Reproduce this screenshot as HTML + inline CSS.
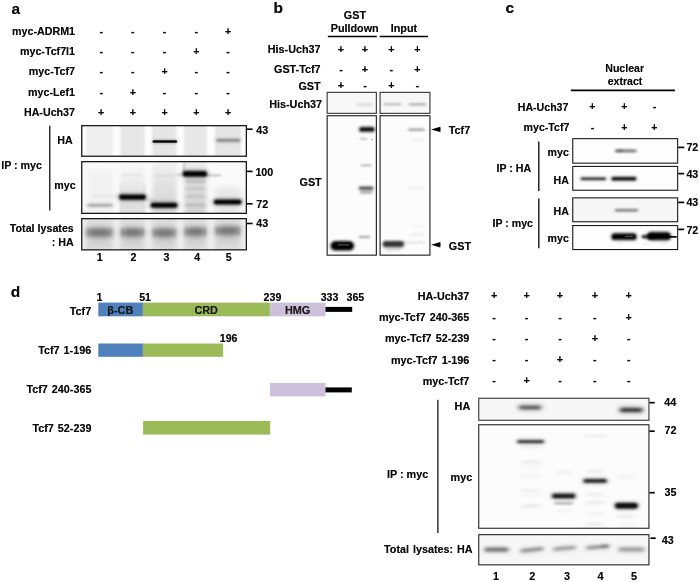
<!DOCTYPE html>
<html><head><meta charset="utf-8"><title>Figure</title>
<style>
html,body{margin:0;padding:0;background:#fff;}
#fig{position:relative;width:700px;height:582px;overflow:hidden;background:#fff;font-family:"Liberation Sans",sans-serif;font-weight:bold;color:#0c0c0c;}
#fig svg{position:absolute;left:0;top:0;}
#txt{position:absolute;left:0;top:0;width:700px;height:582px;will-change:transform;}
.t{position:absolute;white-space:nowrap;text-shadow:0 0 0.6px rgba(0,0,0,0.55);line-height:20px;height:20px;}
</style></head><body>
<div id="fig">
<svg width="700" height="582" viewBox="0 0 700 582">
<defs>
<filter id="f05" x="-50%" y="-400%" width="200%" height="900%"><feGaussianBlur stdDeviation="0.6 0.5"/></filter>
<filter id="f1" x="-50%" y="-400%" width="200%" height="900%"><feGaussianBlur stdDeviation="1.1 0.9"/></filter>
<filter id="f15" x="-50%" y="-400%" width="200%" height="900%"><feGaussianBlur stdDeviation="1.6 1.2"/></filter>
<filter id="f2" x="-50%" y="-400%" width="200%" height="900%"><feGaussianBlur stdDeviation="2.0 1.6"/></filter>
<filter id="f3" x="-50%" y="-400%" width="200%" height="900%"><feGaussianBlur stdDeviation="3 2.5"/></filter>
<filter id="f4" x="-50%" y="-400%" width="200%" height="900%"><feGaussianBlur stdDeviation="4 3.5"/></filter>
<filter id="fs" x="-50%" y="-400%" width="200%" height="900%"><feGaussianBlur stdDeviation="1.2 3"/></filter>
<filter id="fl" x="-50%" y="-400%" width="200%" height="900%"><feGaussianBlur stdDeviation="2.5 8"/></filter>
<clipPath id="c1"><rect x="81.75" y="125.65" width="164.60" height="30.60"/></clipPath>
<linearGradient id="lg3" x1="0" y1="0" x2="0" y2="1"><stop offset="0" stop-color="#000" stop-opacity="0.03"/><stop offset="0.75" stop-color="#000" stop-opacity="0.14"/><stop offset="1" stop-color="#000" stop-opacity="0.10"/></linearGradient>
<linearGradient id="lg4" x1="0" y1="0" x2="0" y2="1"><stop offset="0" stop-color="#000" stop-opacity="0.04"/><stop offset="0.3" stop-color="#000" stop-opacity="0.12"/><stop offset="1" stop-color="#000" stop-opacity="0.16"/></linearGradient>
<linearGradient id="lg2" x1="0" y1="0" x2="0" y2="1"><stop offset="0" stop-color="#000" stop-opacity="0"/><stop offset="0.3" stop-color="#000" stop-opacity="0.04"/><stop offset="0.7" stop-color="#000" stop-opacity="0.11"/><stop offset="1" stop-color="#000" stop-opacity="0.11"/></linearGradient>
<clipPath id="c2"><rect x="81.75" y="161.65" width="164.60" height="51.70"/></clipPath>
<clipPath id="c3"><rect x="81.75" y="218.65" width="164.60" height="31.20"/></clipPath>
<clipPath id="c4"><rect x="327.15" y="92.35" width="49.20" height="21.00"/></clipPath>
<clipPath id="c5"><rect x="380.05" y="92.35" width="49.90" height="21.00"/></clipPath>
<clipPath id="c6"><rect x="327.15" y="115.75" width="49.20" height="139.40"/></clipPath>
<clipPath id="c7"><rect x="380.05" y="115.75" width="49.90" height="139.40"/></clipPath>
<clipPath id="c8"><rect x="572.75" y="138.65" width="104.90" height="24.50"/></clipPath>
<clipPath id="c9"><rect x="572.75" y="166.45" width="104.90" height="23.80"/></clipPath>
<clipPath id="c10"><rect x="572.75" y="197.85" width="104.90" height="23.90"/></clipPath>
<clipPath id="c11"><rect x="572.75" y="225.55" width="104.90" height="24.00"/></clipPath>
<clipPath id="c12"><rect x="478.75" y="398.25" width="170.20" height="22.00"/></clipPath>
<clipPath id="c13"><rect x="478.75" y="424.75" width="170.20" height="103.50"/></clipPath>
<clipPath id="c14"><rect x="478.75" y="534.65" width="170.20" height="30.20"/></clipPath>
</defs>
<line x1="49.80" y1="125.80" x2="49.80" y2="210.60" stroke="#000" stroke-width="1.2"/>
<line x1="247.00" y1="129.20" x2="252.60" y2="129.20" stroke="#000" stroke-width="1.6"/>
<line x1="247.00" y1="171.40" x2="252.60" y2="171.40" stroke="#000" stroke-width="1.6"/>
<line x1="247.00" y1="203.80" x2="252.60" y2="203.80" stroke="#000" stroke-width="1.6"/>
<line x1="247.00" y1="223.50" x2="252.60" y2="223.50" stroke="#000" stroke-width="1.6"/>
<rect x="81.75" y="125.65" width="164.60" height="30.60" fill="#fdfdfd" />
<g clip-path="url(#c1)"><rect x="86.00" y="118.00" width="27.00" height="44.00" rx="2.00" fill="#000" fill-opacity="0.055" filter="url(#fs)"/><rect x="120.30" y="118.00" width="24.40" height="44.00" rx="2.00" fill="#000" fill-opacity="0.085" filter="url(#fs)"/><rect x="152.10" y="118.00" width="24.40" height="44.00" rx="2.00" fill="#000" fill-opacity="0.09" filter="url(#fs)"/><rect x="184.10" y="118.00" width="22.70" height="44.00" rx="2.00" fill="#000" fill-opacity="0.085" filter="url(#fs)"/><rect x="214.80" y="118.00" width="26.00" height="44.00" rx="2.00" fill="#000" fill-opacity="0.09" filter="url(#fs)"/><rect x="152.55" y="140.30" width="24.50" height="2.40" rx="1.20" fill="#000" fill-opacity="0.95" filter="url(#f05)"/><rect x="151.80" y="139.25" width="26.00" height="4.50" rx="2.25" fill="#000" fill-opacity="0.22" filter="url(#f15)"/><rect x="216.30" y="139.20" width="24.00" height="2.20" rx="1.10" fill="#000" fill-opacity="0.42" filter="url(#f1)"/><rect x="214.80" y="137.45" width="27.00" height="5.70" rx="2.85" fill="#000" fill-opacity="0.105" filter="url(#f2)"/></g>
<rect x="81.75" y="125.65" width="164.60" height="30.60" fill="none" stroke="#1a1a1a" stroke-width="1.3" />
<rect x="81.75" y="161.65" width="164.60" height="51.70" fill="#fafafa" />
<g clip-path="url(#c2)"><rect x="87.50" y="170.00" width="26.00" height="50.00" rx="2.00" fill="#000" fill-opacity="0.03" filter="url(#f3)"/><rect x="120.5" y="161" width="24" height="54" fill="url(#lg2)" filter="url(#f2)"/><rect x="120.50" y="183.00" width="1.60" height="34.00" rx="0.80" fill="#000" fill-opacity="0.1" filter="url(#f15)"/><rect x="143.10" y="183.00" width="1.60" height="34.00" rx="0.80" fill="#000" fill-opacity="0.1" filter="url(#f15)"/><rect x="152.5" y="161" width="24" height="54" fill="url(#lg3)" filter="url(#f2)"/><rect x="184.5" y="161" width="22" height="54" fill="url(#lg4)" filter="url(#f2)"/><rect x="183.50" y="162.00" width="1.40" height="12.00" rx="0.70" fill="#000" fill-opacity="0.3" filter="url(#f1)"/><rect x="215.00" y="187.00" width="26.00" height="30.00" rx="2.00" fill="#000" fill-opacity="0.07" filter="url(#f3)"/><rect x="121.50" y="174.20" width="22.00" height="1.60" rx="0.80" fill="#000" fill-opacity="0.08" filter="url(#f15)"/><rect x="153.50" y="175.20" width="22.00" height="1.60" rx="0.80" fill="#000" fill-opacity="0.08" filter="url(#f15)"/><rect x="185.00" y="180.50" width="21.00" height="2.00" rx="1.00" fill="#000" fill-opacity="0.2" filter="url(#f15)"/><rect x="185.00" y="187.50" width="21.00" height="2.00" rx="1.00" fill="#000" fill-opacity="0.12" filter="url(#f15)"/><rect x="185.00" y="195.50" width="21.00" height="2.00" rx="1.00" fill="#000" fill-opacity="0.12" filter="url(#f15)"/><rect x="185.00" y="204.00" width="21.00" height="2.00" rx="1.00" fill="#000" fill-opacity="0.16" filter="url(#f15)"/><rect x="87.50" y="204.30" width="25.00" height="2.00" rx="1.00" fill="#000" fill-opacity="0.32" filter="url(#f15)"/><rect x="86.00" y="202.55" width="28.00" height="5.50" rx="2.75" fill="#000" fill-opacity="0.08" filter="url(#f2)"/><rect x="93.00" y="195.80" width="30.00" height="1.20" rx="0.60" fill="#000" fill-opacity="0.1" filter="url(#f15)"/><rect x="119.25" y="194.80" width="26.50" height="4.60" rx="2.30" fill="#000" fill-opacity="1" filter="url(#f1)"/><rect x="117.75" y="193.05" width="29.50" height="8.10" rx="4.05" fill="#000" fill-opacity="0.3" filter="url(#f2)"/><rect x="150.75" y="203.00" width="26.50" height="4.40" rx="2.20" fill="#000" fill-opacity="1" filter="url(#f1)"/><rect x="149.25" y="201.25" width="29.50" height="7.90" rx="3.95" fill="#000" fill-opacity="0.3" filter="url(#f2)"/><rect x="144.50" y="199.05" width="10.00" height="1.50" rx="0.75" fill="#000" fill-opacity="0.22" filter="url(#f15)"/><rect x="182.90" y="171.20" width="24.00" height="5.20" rx="2.60" fill="#000" fill-opacity="1" filter="url(#f1)"/><rect x="181.40" y="169.45" width="27.00" height="8.70" rx="4.35" fill="#000" fill-opacity="0.3" filter="url(#f2)"/><rect x="201.00" y="174.70" width="20.00" height="1.40" rx="0.70" fill="#000" fill-opacity="0.4" filter="url(#f15)"/><rect x="175.50" y="174.00" width="10.00" height="1.20" rx="0.60" fill="#000" fill-opacity="0.25" filter="url(#f15)"/><rect x="213.95" y="199.80" width="27.50" height="4.40" rx="2.20" fill="#000" fill-opacity="1" filter="url(#f1)"/><rect x="212.45" y="198.05" width="30.50" height="7.90" rx="3.95" fill="#000" fill-opacity="0.3" filter="url(#f2)"/></g>
<rect x="81.75" y="161.65" width="164.60" height="51.70" fill="none" stroke="#1a1a1a" stroke-width="1.3" />
<rect x="81.75" y="218.65" width="164.60" height="31.20" fill="#efefef" />
<g clip-path="url(#c3)"><rect x="85.50" y="212.50" width="28.00" height="44.00" rx="2.00" fill="#000" fill-opacity="0.08" filter="url(#f2)"/><rect x="87.00" y="228.10" width="25.00" height="9.00" rx="4.50" fill="#000" fill-opacity="0.48" filter="url(#f3)"/><rect x="86.90" y="227.60" width="2.20" height="10.00" rx="1.00" fill="#000" fill-opacity="0.16" filter="url(#f15)"/><rect x="109.90" y="227.60" width="2.20" height="10.00" rx="1.00" fill="#000" fill-opacity="0.16" filter="url(#f15)"/><rect x="88.00" y="237.60" width="23.00" height="8.00" rx="4.00" fill="#000" fill-opacity="0.06" filter="url(#f3)"/><rect x="119.80" y="212.50" width="25.40" height="44.00" rx="2.00" fill="#000" fill-opacity="0.08" filter="url(#f2)"/><rect x="121.30" y="227.90" width="22.40" height="9.00" rx="4.50" fill="#000" fill-opacity="0.48" filter="url(#f3)"/><rect x="121.20" y="227.40" width="2.20" height="10.00" rx="1.00" fill="#000" fill-opacity="0.16" filter="url(#f15)"/><rect x="141.60" y="227.40" width="2.20" height="10.00" rx="1.00" fill="#000" fill-opacity="0.16" filter="url(#f15)"/><rect x="122.30" y="237.40" width="20.40" height="8.00" rx="4.00" fill="#000" fill-opacity="0.06" filter="url(#f3)"/><rect x="151.60" y="212.50" width="25.40" height="44.00" rx="2.00" fill="#000" fill-opacity="0.08" filter="url(#f2)"/><rect x="153.10" y="228.30" width="22.40" height="9.00" rx="4.50" fill="#000" fill-opacity="0.48" filter="url(#f3)"/><rect x="153.00" y="227.80" width="2.20" height="10.00" rx="1.00" fill="#000" fill-opacity="0.16" filter="url(#f15)"/><rect x="173.40" y="227.80" width="2.20" height="10.00" rx="1.00" fill="#000" fill-opacity="0.16" filter="url(#f15)"/><rect x="154.10" y="237.80" width="20.40" height="8.00" rx="4.00" fill="#000" fill-opacity="0.06" filter="url(#f3)"/><rect x="183.60" y="212.50" width="23.70" height="44.00" rx="2.00" fill="#000" fill-opacity="0.08" filter="url(#f2)"/><rect x="185.10" y="227.30" width="20.70" height="9.00" rx="4.50" fill="#000" fill-opacity="0.48" filter="url(#f3)"/><rect x="185.00" y="226.80" width="2.20" height="10.00" rx="1.00" fill="#000" fill-opacity="0.16" filter="url(#f15)"/><rect x="203.70" y="226.80" width="2.20" height="10.00" rx="1.00" fill="#000" fill-opacity="0.16" filter="url(#f15)"/><rect x="186.10" y="236.80" width="18.70" height="8.00" rx="4.00" fill="#000" fill-opacity="0.06" filter="url(#f3)"/><rect x="214.30" y="212.50" width="27.00" height="44.00" rx="2.00" fill="#000" fill-opacity="0.08" filter="url(#f2)"/><rect x="215.80" y="226.30" width="24.00" height="9.00" rx="4.50" fill="#000" fill-opacity="0.48" filter="url(#f3)"/><rect x="215.70" y="225.80" width="2.20" height="10.00" rx="1.00" fill="#000" fill-opacity="0.16" filter="url(#f15)"/><rect x="237.70" y="225.80" width="2.20" height="10.00" rx="1.00" fill="#000" fill-opacity="0.16" filter="url(#f15)"/><rect x="216.80" y="235.80" width="22.00" height="8.00" rx="4.00" fill="#000" fill-opacity="0.06" filter="url(#f3)"/></g>
<rect x="81.75" y="218.65" width="164.60" height="31.20" fill="none" stroke="#1a1a1a" stroke-width="1.3" />
<line x1="327.80" y1="36.50" x2="376.80" y2="36.50" stroke="#000" stroke-width="1.3"/>
<line x1="379.70" y1="36.50" x2="428.10" y2="36.50" stroke="#000" stroke-width="1.3"/>
<path d="M431.0 129.4 L440.3 126.7 L440.6 129.4 L440.3 132.1 Z" fill="#000"/>
<path d="M431.0 244.8 L440.3 242.10000000000002 L440.6 244.8 L440.3 247.5 Z" fill="#000"/>
<rect x="327.15" y="92.35" width="49.20" height="21.00" fill="#f8f8f8" />
<g clip-path="url(#c4)"><rect x="356.80" y="103.60" width="16.00" height="2.20" rx="1.10" fill="#000" fill-opacity="0.15" filter="url(#f15)"/></g>
<rect x="327.15" y="92.35" width="49.20" height="21.00" fill="none" stroke="#333" stroke-width="1.1" />
<rect x="380.05" y="92.35" width="49.90" height="21.00" fill="#f8f8f8" />
<g clip-path="url(#c5)"><rect x="383.30" y="103.30" width="18.00" height="2.00" rx="1.00" fill="#000" fill-opacity="0.28" filter="url(#f15)"/><rect x="408.75" y="103.30" width="17.50" height="2.20" rx="1.10" fill="#000" fill-opacity="0.33" filter="url(#f15)"/></g>
<rect x="380.05" y="92.35" width="49.90" height="21.00" fill="none" stroke="#333" stroke-width="1.1" />
<rect x="327.15" y="115.75" width="49.20" height="139.40" fill="#fcfcfc" />
<g clip-path="url(#c6)"><rect x="359.65" y="127.50" width="14.50" height="3.80" rx="1.90" fill="#000" fill-opacity="0.95" filter="url(#f1)"/><rect x="358.15" y="125.75" width="17.50" height="7.30" rx="3.65" fill="#000" fill-opacity="0.285" filter="url(#f15)"/><rect x="360.00" y="138.10" width="7.00" height="1.40" rx="0.70" fill="#000" fill-opacity="0.3" filter="url(#f1)"/><rect x="371.00" y="138.75" width="2.00" height="1.50" rx="0.75" fill="#000" fill-opacity="0.3" filter="url(#f05)"/><rect x="360.50" y="164.80" width="11.00" height="1.20" rx="0.60" fill="#000" fill-opacity="0.42" filter="url(#f1)"/><rect x="359.45" y="187.00" width="13.50" height="2.40" rx="1.20" fill="#000" fill-opacity="0.66" filter="url(#f1)"/><rect x="357.95" y="185.25" width="16.50" height="5.90" rx="2.95" fill="#000" fill-opacity="0.198" filter="url(#f15)"/><rect x="359.95" y="191.10" width="12.50" height="2.60" rx="1.30" fill="#000" fill-opacity="0.3" filter="url(#f1)"/><rect x="358.75" y="236.10" width="11.50" height="1.60" rx="0.80" fill="#000" fill-opacity="0.42" filter="url(#f1)"/><rect x="331.05" y="241.40" width="22.50" height="8.60" rx="4.30" fill="#000" fill-opacity="1" filter="url(#f1)"/><rect x="329.30" y="240.25" width="26.00" height="11.50" rx="5.75" fill="#000" fill-opacity="0.3" filter="url(#f15)"/><rect x="337.50" y="244.15" width="12.00" height="1.30" rx="0.65" fill="#fff" fill-opacity="0.3" filter="url(#f05)"/><rect x="339.50" y="239.50" width="5.00" height="1.00" rx="0.50" fill="#000" fill-opacity="0.08" filter="url(#f1)"/></g>
<rect x="327.15" y="115.75" width="49.20" height="139.40" fill="none" stroke="#1a1a1a" stroke-width="1.1" />
<rect x="380.05" y="115.75" width="49.90" height="139.40" fill="#fcfcfc" />
<g clip-path="url(#c7)"><rect x="407.95" y="128.50" width="16.50" height="2.60" rx="1.30" fill="#000" fill-opacity="0.36" filter="url(#f15)"/><rect x="412.00" y="139.10" width="12.00" height="1.40" rx="0.70" fill="#000" fill-opacity="0.1" filter="url(#f15)"/><rect x="408.50" y="187.70" width="15.00" height="1.40" rx="0.70" fill="#000" fill-opacity="0.1" filter="url(#f15)"/><rect x="411.00" y="225.90" width="12.00" height="1.20" rx="0.60" fill="#000" fill-opacity="0.07" filter="url(#f15)"/><rect x="410.00" y="233.80" width="14.00" height="1.40" rx="0.70" fill="#000" fill-opacity="0.09" filter="url(#f15)"/><rect x="402.00" y="241.70" width="22.00" height="1.80" rx="0.90" fill="#000" fill-opacity="0.12" filter="url(#f15)"/><rect x="383.05" y="241.30" width="20.50" height="5.40" rx="2.70" fill="#000" fill-opacity="0.74" filter="url(#f1)"/><rect x="381.30" y="240.25" width="24.00" height="8.50" rx="4.25" fill="#000" fill-opacity="0.22" filter="url(#f15)"/><rect x="385.50" y="248.30" width="15.00" height="3.00" rx="1.50" fill="#000" fill-opacity="0.1" filter="url(#f15)"/></g>
<rect x="380.05" y="115.75" width="49.90" height="139.40" fill="none" stroke="#1a1a1a" stroke-width="1.1" />
<line x1="570.90" y1="90.30" x2="674.90" y2="90.30" stroke="#000" stroke-width="1.7"/>
<line x1="538.80" y1="141.40" x2="538.80" y2="191.10" stroke="#000" stroke-width="1.3"/>
<line x1="538.80" y1="198.50" x2="538.80" y2="248.20" stroke="#000" stroke-width="1.3"/>
<line x1="678.20" y1="147.40" x2="684.20" y2="147.40" stroke="#000" stroke-width="1.7"/>
<line x1="678.20" y1="173.60" x2="684.20" y2="173.60" stroke="#000" stroke-width="1.7"/>
<line x1="678.20" y1="202.40" x2="684.20" y2="202.40" stroke="#000" stroke-width="1.7"/>
<line x1="678.20" y1="229.40" x2="684.20" y2="229.40" stroke="#000" stroke-width="1.7"/>
<rect x="572.75" y="138.65" width="104.90" height="24.50" fill="#fdfdfd" />
<g clip-path="url(#c8)"><rect x="615.25" y="149.30" width="21.50" height="3.20" rx="1.60" fill="#000" fill-opacity="0.48" filter="url(#f15)"/><rect x="615.50" y="149.20" width="8.00" height="2.80" rx="1.40" fill="#000" fill-opacity="0.22" filter="url(#f15)"/></g>
<rect x="572.75" y="138.65" width="104.90" height="24.50" fill="none" stroke="#1a1a1a" stroke-width="1.1" />
<rect x="572.75" y="166.45" width="104.90" height="23.80" fill="#fdfdfd" />
<g clip-path="url(#c9)"><rect x="580.80" y="177.75" width="25.00" height="1.90" rx="0.95" fill="#000" fill-opacity="0.95" filter="url(#f1)"/><rect x="579.30" y="176.00" width="28.00" height="5.40" rx="2.70" fill="#000" fill-opacity="0.1425" filter="url(#f15)"/><rect x="611.65" y="177.20" width="24.50" height="3.00" rx="1.50" fill="#000" fill-opacity="1" filter="url(#f1)"/><rect x="610.15" y="175.45" width="27.50" height="6.50" rx="3.25" fill="#000" fill-opacity="0.2" filter="url(#f15)"/></g>
<rect x="572.75" y="166.45" width="104.90" height="23.80" fill="none" stroke="#1a1a1a" stroke-width="1.1" />
<rect x="572.75" y="197.85" width="104.90" height="23.90" fill="#f6f6f6" />
<g clip-path="url(#c10)"><rect x="614.75" y="208.80" width="23.50" height="3.00" rx="1.50" fill="#000" fill-opacity="0.45" filter="url(#f15)"/></g>
<rect x="572.75" y="197.85" width="104.90" height="23.90" fill="none" stroke="#1a1a1a" stroke-width="1.1" />
<rect x="572.75" y="225.55" width="104.90" height="24.00" fill="#fdfdfd" />
<g clip-path="url(#c11)"><rect x="611.75" y="233.80" width="24.50" height="5.80" rx="2.90" fill="#000" fill-opacity="1" filter="url(#f1)"/><rect x="610.25" y="232.05" width="27.50" height="9.30" rx="4.65" fill="#000" fill-opacity="0.3" filter="url(#f15)"/><rect x="625.00" y="235.80" width="8.00" height="1.20" rx="0.60" fill="#fff" fill-opacity="0.3" filter="url(#f05)"/><rect x="647.50" y="232.60" width="23.00" height="7.20" rx="3.60" fill="#000" fill-opacity="1" filter="url(#f1)"/><rect x="646.00" y="230.85" width="26.00" height="10.70" rx="5.35" fill="#000" fill-opacity="0.3" filter="url(#f15)"/><rect x="641.50" y="234.70" width="13.00" height="3.80" rx="1.90" fill="#000" fill-opacity="0.8" filter="url(#f1)"/><rect x="664.00" y="235.90" width="13.00" height="1.80" rx="0.90" fill="#000" fill-opacity="0.95" filter="url(#f05)"/><rect x="617.50" y="243.00" width="5.00" height="1.00" rx="0.50" fill="#000" fill-opacity="0.12" filter="url(#f1)"/><rect x="643.50" y="243.30" width="5.00" height="1.00" rx="0.50" fill="#000" fill-opacity="0.12" filter="url(#f1)"/><rect x="661.50" y="243.00" width="5.00" height="1.00" rx="0.50" fill="#000" fill-opacity="0.1" filter="url(#f1)"/></g>
<rect x="572.75" y="225.55" width="104.90" height="24.00" fill="none" stroke="#1a1a1a" stroke-width="1.1" />
<rect x="98.30" y="302.60" width="44.60" height="13.70" fill="#4f81bd" />
<rect x="142.90" y="302.60" width="127.00" height="13.70" fill="#9bbb59" />
<rect x="269.90" y="302.60" width="55.60" height="13.70" fill="#ccc0da" />
<rect x="325.50" y="306.90" width="26.70" height="5.00" fill="#000" />
<rect x="98.30" y="343.50" width="44.60" height="13.30" fill="#4f81bd" />
<rect x="142.90" y="343.50" width="80.20" height="13.30" fill="#9bbb59" />
<rect x="269.90" y="382.90" width="55.60" height="13.50" fill="#ccc0da" />
<rect x="325.50" y="387.40" width="26.30" height="5.00" fill="#000" />
<rect x="143.10" y="421.00" width="127.10" height="13.60" fill="#9bbb59" />
<line x1="437.90" y1="399.70" x2="437.90" y2="532.90" stroke="#000" stroke-width="1.2"/>
<line x1="649.40" y1="402.70" x2="654.70" y2="402.70" stroke="#000" stroke-width="1.7"/>
<line x1="649.40" y1="431.20" x2="654.70" y2="431.20" stroke="#000" stroke-width="1.7"/>
<line x1="649.40" y1="492.70" x2="654.70" y2="492.70" stroke="#000" stroke-width="1.7"/>
<line x1="650.40" y1="538.20" x2="655.70" y2="538.20" stroke="#000" stroke-width="1.7"/>
<rect x="478.75" y="398.25" width="170.20" height="22.00" fill="#f7f7f7" />
<g clip-path="url(#c12)"><rect x="519.00" y="405.80" width="22.00" height="3.40" rx="1.70" fill="#000" fill-opacity="0.62" filter="url(#f2)"/><rect x="517.50" y="404.05" width="25.00" height="6.90" rx="3.45" fill="#000" fill-opacity="0.186" filter="url(#f3)"/><rect x="619.95" y="408.30" width="22.50" height="3.40" rx="1.70" fill="#000" fill-opacity="0.82" filter="url(#f2)"/><rect x="618.45" y="406.55" width="25.50" height="6.90" rx="3.45" fill="#000" fill-opacity="0.24599999999999997" filter="url(#f3)"/></g>
<rect x="478.75" y="398.25" width="170.20" height="22.00" fill="none" stroke="#333" stroke-width="1.1" />
<rect x="478.75" y="424.75" width="170.20" height="103.50" fill="#fcfcfc" />
<g clip-path="url(#c13)"><rect x="517.60" y="440.40" width="26.00" height="2.40" rx="1.20" fill="#000" fill-opacity="0.85" filter="url(#f15)"/><rect x="516.10" y="438.65" width="29.00" height="5.90" rx="2.95" fill="#000" fill-opacity="0.255" filter="url(#f2)"/><rect x="520.50" y="446.40" width="20.00" height="2.20" rx="1.10" fill="#000" fill-opacity="0.07" filter="url(#f2)"/><rect x="520.50" y="460.70" width="20.00" height="2.20" rx="1.10" fill="#000" fill-opacity="0.09" filter="url(#f2)"/><rect x="520.50" y="465.90" width="20.00" height="2.20" rx="1.10" fill="#000" fill-opacity="0.04" filter="url(#f2)"/><rect x="520.50" y="475.10" width="20.00" height="2.20" rx="1.10" fill="#000" fill-opacity="0.05" filter="url(#f2)"/><rect x="520.50" y="489.50" width="20.00" height="2.20" rx="1.10" fill="#000" fill-opacity="0.07" filter="url(#f2)"/><rect x="520.50" y="494.40" width="20.00" height="2.20" rx="1.10" fill="#000" fill-opacity="0.04" filter="url(#f2)"/><rect x="520.50" y="504.90" width="20.00" height="2.20" rx="1.10" fill="#000" fill-opacity="0.12" filter="url(#f2)" transform="rotate(-3 530.50 506.00)"/><rect x="552.20" y="493.80" width="23.00" height="4.40" rx="2.20" fill="#000" fill-opacity="0.84" filter="url(#f15)"/><rect x="550.70" y="492.05" width="26.00" height="7.90" rx="3.95" fill="#000" fill-opacity="0.252" filter="url(#f2)"/><rect x="554.20" y="502.00" width="19.00" height="2.40" rx="1.20" fill="#000" fill-opacity="0.3" filter="url(#f15)"/><rect x="556.20" y="510.00" width="15.00" height="2.00" rx="1.00" fill="#000" fill-opacity="0.06" filter="url(#f2)"/><rect x="555.70" y="471.35" width="16.00" height="2.50" rx="1.25" fill="#000" fill-opacity="0.07" filter="url(#f2)"/><rect x="583.70" y="479.20" width="23.00" height="3.40" rx="1.70" fill="#000" fill-opacity="0.85" filter="url(#f15)"/><rect x="582.20" y="477.45" width="26.00" height="6.90" rx="3.45" fill="#000" fill-opacity="0.255" filter="url(#f2)"/><rect x="586.20" y="470.40" width="18.00" height="2.20" rx="1.10" fill="#000" fill-opacity="0.1" filter="url(#f2)"/><rect x="583.70" y="435.20" width="23.00" height="1.60" rx="0.80" fill="#000" fill-opacity="0.1" filter="url(#f15)"/><rect x="585.50" y="493.40" width="19.00" height="2.20" rx="1.10" fill="#000" fill-opacity="0.09" filter="url(#f2)"/><rect x="585.50" y="501.60" width="19.00" height="2.20" rx="1.10" fill="#000" fill-opacity="0.1" filter="url(#f2)"/><rect x="585.50" y="512.70" width="19.00" height="2.20" rx="1.10" fill="#000" fill-opacity="0.06" filter="url(#f2)"/><rect x="585.50" y="523.40" width="19.00" height="2.20" rx="1.10" fill="#000" fill-opacity="0.1" filter="url(#f2)"/><rect x="615.15" y="503.00" width="22.50" height="5.40" rx="2.70" fill="#000" fill-opacity="0.92" filter="url(#f15)"/><rect x="613.65" y="501.25" width="25.50" height="8.90" rx="4.45" fill="#000" fill-opacity="0.276" filter="url(#f2)"/><rect x="617.40" y="475.75" width="18.00" height="2.50" rx="1.25" fill="#000" fill-opacity="0.05" filter="url(#f2)"/><rect x="617.40" y="515.30" width="18.00" height="2.20" rx="1.10" fill="#000" fill-opacity="0.09" filter="url(#f2)"/><rect x="618.40" y="523.50" width="16.00" height="2.00" rx="1.00" fill="#000" fill-opacity="0.05" filter="url(#f2)"/></g>
<rect x="478.75" y="424.75" width="170.20" height="103.50" fill="none" stroke="#222" stroke-width="1.1" />
<rect x="478.75" y="534.65" width="170.20" height="30.20" fill="#f7f7f7" />
<g clip-path="url(#c14)"><rect x="484.50" y="547.40" width="24.00" height="4.40" rx="2.20" fill="#000" fill-opacity="0.52" filter="url(#f2)"/><rect x="483.00" y="546.10" width="27.00" height="8.00" rx="4.00" fill="#000" fill-opacity="0.06" filter="url(#f3)"/><rect x="520.50" y="548.10" width="23.00" height="3.40" rx="1.70" fill="#000" fill-opacity="0.42" filter="url(#f2)" transform="rotate(-6 532.00 549.80)"/><rect x="519.00" y="546.30" width="26.00" height="8.00" rx="4.00" fill="#000" fill-opacity="0.06" filter="url(#f3)" transform="rotate(-6 532.00 550.30)"/><rect x="553.25" y="546.70" width="22.50" height="3.00" rx="1.50" fill="#000" fill-opacity="0.4" filter="url(#f2)" transform="rotate(-5 564.50 548.20)"/><rect x="551.75" y="544.70" width="25.50" height="8.00" rx="4.00" fill="#000" fill-opacity="0.06" filter="url(#f3)" transform="rotate(-5 564.50 548.70)"/><rect x="586.10" y="545.50" width="23.00" height="3.00" rx="1.50" fill="#000" fill-opacity="0.44" filter="url(#f2)" transform="rotate(-5 597.60 547.00)"/><rect x="584.60" y="543.50" width="26.00" height="8.00" rx="4.00" fill="#000" fill-opacity="0.06" filter="url(#f3)" transform="rotate(-5 597.60 547.50)"/><rect x="618.50" y="547.20" width="26.00" height="4.40" rx="2.20" fill="#000" fill-opacity="0.33" filter="url(#f2)"/><rect x="617.00" y="545.90" width="29.00" height="8.00" rx="4.00" fill="#000" fill-opacity="0.06" filter="url(#f3)"/><rect x="601.00" y="544.70" width="8.00" height="3.00" rx="1.50" fill="#000" fill-opacity="0.2" filter="url(#f15)"/></g>
<rect x="478.75" y="534.65" width="170.20" height="30.20" fill="none" stroke="#222" stroke-width="1.1" />
</svg>
<div id="txt">
<div class="t" style="top:-1.5px;font-size:15.5px;left:11.60px;">a</div>
<div class="t" style="top:-2.5px;font-size:15.5px;left:273.60px;">b</div>
<div class="t" style="top:-2.5px;font-size:15.5px;left:505.60px;">c</div>
<div class="t" style="top:281.5px;font-size:15.5px;left:10.80px;">d</div>
<div class="t" style="top:21px;font-size:10.7px;right:625.00px;">myc-ADRM1</div>
<div class="t" style="top:21px;font-size:10.7px;left:1.20px;width:200px;text-align:center;">-</div>
<div class="t" style="top:21px;font-size:10.7px;left:32.90px;width:200px;text-align:center;">-</div>
<div class="t" style="top:21px;font-size:10.7px;left:64.60px;width:200px;text-align:center;">-</div>
<div class="t" style="top:21px;font-size:10.7px;left:96.40px;width:200px;text-align:center;">-</div>
<div class="t" style="top:21px;font-size:10.7px;left:128.00px;width:200px;text-align:center;">+</div>
<div class="t" style="top:41px;font-size:10.7px;right:625.00px;">myc-Tcf7l1</div>
<div class="t" style="top:41px;font-size:10.7px;left:1.20px;width:200px;text-align:center;">-</div>
<div class="t" style="top:41px;font-size:10.7px;left:32.90px;width:200px;text-align:center;">-</div>
<div class="t" style="top:41px;font-size:10.7px;left:64.60px;width:200px;text-align:center;">-</div>
<div class="t" style="top:41px;font-size:10.7px;left:96.40px;width:200px;text-align:center;">+</div>
<div class="t" style="top:41px;font-size:10.7px;left:128.00px;width:200px;text-align:center;">-</div>
<div class="t" style="top:61px;font-size:10.7px;right:625.00px;">myc-Tcf7</div>
<div class="t" style="top:61px;font-size:10.7px;left:1.20px;width:200px;text-align:center;">-</div>
<div class="t" style="top:61px;font-size:10.7px;left:32.90px;width:200px;text-align:center;">-</div>
<div class="t" style="top:61px;font-size:10.7px;left:64.60px;width:200px;text-align:center;">+</div>
<div class="t" style="top:61px;font-size:10.7px;left:96.40px;width:200px;text-align:center;">-</div>
<div class="t" style="top:61px;font-size:10.7px;left:128.00px;width:200px;text-align:center;">-</div>
<div class="t" style="top:82px;font-size:10.7px;right:625.00px;">myc-Lef1</div>
<div class="t" style="top:82px;font-size:10.7px;left:1.20px;width:200px;text-align:center;">-</div>
<div class="t" style="top:82px;font-size:10.7px;left:32.90px;width:200px;text-align:center;">+</div>
<div class="t" style="top:82px;font-size:10.7px;left:64.60px;width:200px;text-align:center;">-</div>
<div class="t" style="top:82px;font-size:10.7px;left:96.40px;width:200px;text-align:center;">-</div>
<div class="t" style="top:82px;font-size:10.7px;left:128.00px;width:200px;text-align:center;">-</div>
<div class="t" style="top:102px;font-size:10.7px;right:625.00px;">HA-Uch37</div>
<div class="t" style="top:102px;font-size:10.7px;left:1.20px;width:200px;text-align:center;">+</div>
<div class="t" style="top:102px;font-size:10.7px;left:32.90px;width:200px;text-align:center;">+</div>
<div class="t" style="top:102px;font-size:10.7px;left:64.60px;width:200px;text-align:center;">+</div>
<div class="t" style="top:102px;font-size:10.7px;left:96.40px;width:200px;text-align:center;">+</div>
<div class="t" style="top:102px;font-size:10.7px;left:128.00px;width:200px;text-align:center;">+</div>
<div class="t" style="top:155px;font-size:10.7px;left:1.20px;">IP : myc</div>
<div class="t" style="top:130px;font-size:10.7px;right:627.40px;">HA</div>
<div class="t" style="top:175px;font-size:10.7px;right:624.40px;">myc</div>
<div class="t" style="top:218px;font-size:10.7px;right:626.20px;">Total lysates</div>
<div class="t" style="top:232px;font-size:10.7px;right:626.20px;">: HA</div>
<div class="t" style="top:247px;font-size:10.7px;left:-0.20px;width:200px;text-align:center;">1</div>
<div class="t" style="top:247px;font-size:10.7px;left:33.60px;width:200px;text-align:center;">2</div>
<div class="t" style="top:247px;font-size:10.7px;left:66.40px;width:200px;text-align:center;">3</div>
<div class="t" style="top:247px;font-size:10.7px;left:97.20px;width:200px;text-align:center;">4</div>
<div class="t" style="top:247px;font-size:10.7px;left:128.70px;width:200px;text-align:center;">5</div>
<div class="t" style="top:120px;font-size:10.7px;left:256.20px;">43</div>
<div class="t" style="top:162px;font-size:10.7px;left:255.40px;">100</div>
<div class="t" style="top:194px;font-size:10.7px;left:256.20px;">72</div>
<div class="t" style="top:213px;font-size:10.7px;left:256.20px;">43</div>
<div class="t" style="top:5px;font-size:10.8px;left:254.90px;width:200px;text-align:center;">GST</div>
<div class="t" style="top:18px;font-size:10.8px;left:254.70px;width:200px;text-align:center;">Pulldown</div>
<div class="t" style="top:18px;font-size:10.8px;left:303.90px;width:200px;text-align:center;">Input</div>
<div class="t" style="top:39px;font-size:10.8px;right:379.40px;">His-Uch37</div>
<div class="t" style="top:39px;font-size:10.8px;left:241.00px;width:200px;text-align:center;">+</div>
<div class="t" style="top:39px;font-size:10.8px;left:265.00px;width:200px;text-align:center;">+</div>
<div class="t" style="top:39px;font-size:10.8px;left:291.30px;width:200px;text-align:center;">+</div>
<div class="t" style="top:39px;font-size:10.8px;left:317.30px;width:200px;text-align:center;">+</div>
<div class="t" style="top:59px;font-size:10.8px;right:379.40px;">GST-Tcf7</div>
<div class="t" style="top:59px;font-size:10.8px;left:241.00px;width:200px;text-align:center;">-</div>
<div class="t" style="top:59px;font-size:10.8px;left:265.00px;width:200px;text-align:center;">+</div>
<div class="t" style="top:59px;font-size:10.8px;left:291.30px;width:200px;text-align:center;">-</div>
<div class="t" style="top:59px;font-size:10.8px;left:317.30px;width:200px;text-align:center;">+</div>
<div class="t" style="top:76px;font-size:10.8px;right:379.40px;">GST</div>
<div class="t" style="top:75px;font-size:10.8px;left:241.00px;width:200px;text-align:center;">+</div>
<div class="t" style="top:75px;font-size:10.8px;left:265.00px;width:200px;text-align:center;">-</div>
<div class="t" style="top:75px;font-size:10.8px;left:291.30px;width:200px;text-align:center;">+</div>
<div class="t" style="top:75px;font-size:10.8px;left:317.30px;width:200px;text-align:center;">-</div>
<div class="t" style="top:94px;font-size:10.8px;right:378.00px;">His-Uch37</div>
<div class="t" style="top:172px;font-size:10.8px;left:299.50px;">GST</div>
<div class="t" style="top:120px;font-size:10.8px;left:448.80px;">Tcf7</div>
<div class="t" style="top:236px;font-size:10.8px;left:448.80px;">GST</div>
<div class="t" style="top:58px;font-size:10.6px;left:524.70px;width:200px;text-align:center;">Nuclear</div>
<div class="t" style="top:71px;font-size:10.6px;left:525.00px;width:200px;text-align:center;">extract</div>
<div class="t" style="top:97px;font-size:10.6px;right:131.60px;">HA-Uch37</div>
<div class="t" style="top:96px;font-size:10.6px;left:492.40px;width:200px;text-align:center;">+</div>
<div class="t" style="top:96px;font-size:10.6px;left:524.30px;width:200px;text-align:center;">+</div>
<div class="t" style="top:96px;font-size:10.6px;left:554.40px;width:200px;text-align:center;">-</div>
<div class="t" style="top:117px;font-size:10.6px;right:130.70px;">myc-Tcf7</div>
<div class="t" style="top:117px;font-size:10.6px;left:492.40px;width:200px;text-align:center;">-</div>
<div class="t" style="top:117px;font-size:10.6px;left:524.30px;width:200px;text-align:center;">+</div>
<div class="t" style="top:117px;font-size:10.6px;left:554.40px;width:200px;text-align:center;">+</div>
<div class="t" style="top:158px;font-size:10.6px;left:496.60px;">IP : HA</div>
<div class="t" style="top:213px;font-size:10.6px;left:492.50px;">IP : myc</div>
<div class="t" style="top:142px;font-size:10.6px;right:131.20px;">myc</div>
<div class="t" style="top:170px;font-size:10.6px;right:131.20px;">HA</div>
<div class="t" style="top:201px;font-size:10.6px;right:131.20px;">HA</div>
<div class="t" style="top:228px;font-size:10.6px;right:131.20px;">myc</div>
<div class="t" style="top:137px;font-size:10.6px;left:686.40px;">72</div>
<div class="t" style="top:164px;font-size:10.6px;left:686.40px;">43</div>
<div class="t" style="top:192px;font-size:10.6px;left:686.40px;">43</div>
<div class="t" style="top:220px;font-size:10.6px;left:686.40px;">72</div>
<div class="t" style="top:287px;font-size:10.6px;left:96.50px;">1</div>
<div class="t" style="top:287px;font-size:10.6px;left:139.20px;">51</div>
<div class="t" style="top:287px;font-size:10.6px;left:263.60px;">239</div>
<div class="t" style="top:287px;font-size:10.6px;left:320.70px;">333</div>
<div class="t" style="top:287px;font-size:10.6px;left:346.50px;">365</div>
<div class="t" style="top:328px;font-size:10.6px;left:219.80px;">196</div>
<div class="t" style="top:300px;font-size:10.9px;color:#1a1a1a;left:20.30px;width:200px;text-align:center;">β-CB</div>
<div class="t" style="top:300px;font-size:10.9px;color:#1a1a1a;left:106.20px;width:200px;text-align:center;">CRD</div>
<div class="t" style="top:300px;font-size:10.9px;color:#1a1a1a;left:197.60px;width:200px;text-align:center;">HMG</div>
<div class="t" style="top:301px;font-size:10.8px;right:608.80px;">Tcf7</div>
<div class="t" style="top:340px;font-size:10.8px;word-spacing:1px;right:608.80px;">Tcf7 1-196</div>
<div class="t" style="top:379px;font-size:10.8px;word-spacing:1px;right:608.60px;">Tcf7 240-365</div>
<div class="t" style="top:418px;font-size:10.8px;word-spacing:1px;right:608.60px;">Tcf7 52-239</div>
<div class="t" style="top:286px;font-size:10.8px;word-spacing:1.2px;right:230.70px;">HA-Uch37</div>
<div class="t" style="top:285px;font-size:10.8px;left:394.10px;width:200px;text-align:center;">+</div>
<div class="t" style="top:285px;font-size:10.8px;left:426.60px;width:200px;text-align:center;">+</div>
<div class="t" style="top:285px;font-size:10.8px;left:460.00px;width:200px;text-align:center;">+</div>
<div class="t" style="top:285px;font-size:10.8px;left:494.80px;width:200px;text-align:center;">+</div>
<div class="t" style="top:285px;font-size:10.8px;left:528.70px;width:200px;text-align:center;">+</div>
<div class="t" style="top:307px;font-size:10.8px;word-spacing:1.2px;right:230.70px;">myc-Tcf7 240-365</div>
<div class="t" style="top:307px;font-size:10.8px;left:394.10px;width:200px;text-align:center;">-</div>
<div class="t" style="top:307px;font-size:10.8px;left:426.60px;width:200px;text-align:center;">-</div>
<div class="t" style="top:307px;font-size:10.8px;left:460.00px;width:200px;text-align:center;">-</div>
<div class="t" style="top:307px;font-size:10.8px;left:494.80px;width:200px;text-align:center;">-</div>
<div class="t" style="top:307px;font-size:10.8px;left:528.70px;width:200px;text-align:center;">+</div>
<div class="t" style="top:328px;font-size:10.8px;word-spacing:1.2px;right:230.70px;">myc-Tcf7 52-239</div>
<div class="t" style="top:328px;font-size:10.8px;left:394.10px;width:200px;text-align:center;">-</div>
<div class="t" style="top:328px;font-size:10.8px;left:426.60px;width:200px;text-align:center;">-</div>
<div class="t" style="top:328px;font-size:10.8px;left:460.00px;width:200px;text-align:center;">-</div>
<div class="t" style="top:328px;font-size:10.8px;left:494.80px;width:200px;text-align:center;">+</div>
<div class="t" style="top:328px;font-size:10.8px;left:528.70px;width:200px;text-align:center;">-</div>
<div class="t" style="top:350px;font-size:10.8px;word-spacing:1.2px;right:230.70px;">myc-Tcf7 1-196</div>
<div class="t" style="top:349px;font-size:10.8px;left:394.10px;width:200px;text-align:center;">-</div>
<div class="t" style="top:349px;font-size:10.8px;left:426.60px;width:200px;text-align:center;">-</div>
<div class="t" style="top:349px;font-size:10.8px;left:460.00px;width:200px;text-align:center;">+</div>
<div class="t" style="top:349px;font-size:10.8px;left:494.80px;width:200px;text-align:center;">-</div>
<div class="t" style="top:349px;font-size:10.8px;left:528.70px;width:200px;text-align:center;">-</div>
<div class="t" style="top:371px;font-size:10.8px;word-spacing:1.2px;right:230.70px;">myc-Tcf7</div>
<div class="t" style="top:370px;font-size:10.8px;left:394.10px;width:200px;text-align:center;">-</div>
<div class="t" style="top:370px;font-size:10.8px;left:426.60px;width:200px;text-align:center;">+</div>
<div class="t" style="top:370px;font-size:10.8px;left:460.00px;width:200px;text-align:center;">-</div>
<div class="t" style="top:370px;font-size:10.8px;left:494.80px;width:200px;text-align:center;">-</div>
<div class="t" style="top:370px;font-size:10.8px;left:528.70px;width:200px;text-align:center;">-</div>
<div class="t" style="top:396px;font-size:10.8px;left:454.60px;">HA</div>
<div class="t" style="top:467px;font-size:10.8px;left:450.60px;">myc</div>
<div class="t" style="top:464px;font-size:10.8px;left:387.00px;">IP : myc</div>
<div class="t" style="top:539px;font-size:10.8px;word-spacing:0.9px;left:384.00px;">Total lysates: HA</div>
<div class="t" style="top:392px;font-size:10.8px;left:664.30px;">44</div>
<div class="t" style="top:420px;font-size:10.8px;left:664.60px;">72</div>
<div class="t" style="top:482px;font-size:10.8px;left:664.60px;">35</div>
<div class="t" style="top:530px;font-size:10.8px;left:661.80px;">43</div>
<div class="t" style="top:566px;font-size:10.8px;left:396.00px;width:200px;text-align:center;">1</div>
<div class="t" style="top:566px;font-size:10.8px;left:432.30px;width:200px;text-align:center;">2</div>
<div class="t" style="top:566px;font-size:10.8px;left:467.00px;width:200px;text-align:center;">3</div>
<div class="t" style="top:566px;font-size:10.8px;left:500.50px;width:200px;text-align:center;">4</div>
<div class="t" style="top:566px;font-size:10.8px;left:534.00px;width:200px;text-align:center;">5</div>
</div>
</div>
</body></html>
